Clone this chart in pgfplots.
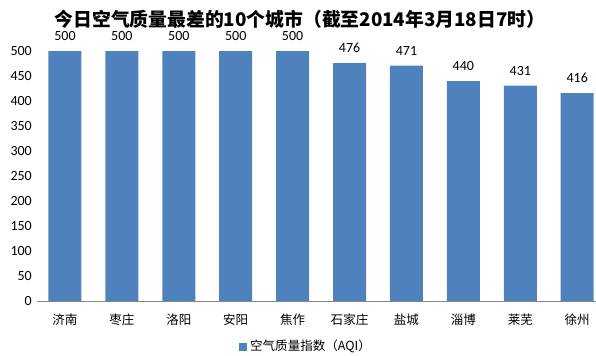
\documentclass[border=0pt]{standalone}
\usepackage{pgfplots}
\pgfplotsset{compat=1.18}
\usepackage{fontspec}
\setmainfont{Carlito}
\newfontfamily\cjk{Noto Sans CJK SC}
\definecolor{barblue}{HTML}{4F81BD}
\definecolor{axgray}{HTML}{868686}
\begin{document}
\begin{tikzpicture}
\useasboundingbox (-27.375pt,-40.5pt) rectangle (419.625pt,225.75pt);
\begin{axis}[
  scale only axis, width=419.625pt, height=187.5pt,
  xmin=-0.5, xmax=9.33, ymin=0, ymax=500,
  ytick={0,50,...,500},
  xtick=data,
  xticklabels={济南,枣庄,洛阳,安阳,焦作,石家庄,盐城,淄博,莱芜,徐州},
  x tick label style={font=\cjk\fontsize{9.4}{11}\selectfont, yshift=-6pt},
  y tick label style={font=\fontsize{10.5}{12}\selectfont},
  /pgf/number format/assume math mode=true,
  axis x line=bottom, axis y line=left,
  x axis line style={draw=axgray, -},
  y axis line style={draw=none},
  major tick length=0pt,
  clip=false,
  ybar, bar width=24.75pt,
  nodes near coords,
  nodes near coords style={font=\fontsize{10.5}{12}\selectfont, black, yshift=4pt},
  legend style={at={(0.482,-0.18)}, anchor=center, draw=none, font=\cjk\fontsize{9.4}{11}\selectfont, inner sep=0pt},
  legend image code/.code={\fill[barblue] (0pt,-4pt) rectangle (6.5pt,2.5pt);},
  legend cell align=left,
]
\addplot[fill=barblue, draw=none] coordinates {(0,500) (1,500) (2,500) (3,500) (4,500) (5,476) (6,471) (7,440) (8,431) (9,416)};
\addlegendentry{空气质量指数（AQI）}
\end{axis}
\node[font=\cjk\bfseries\fontsize{14.1}{16}\selectfont] at (197.6pt,211.5pt) {今日空气质量最差的10个城市（截至2014年3月18日7时）};
\end{tikzpicture}
\end{document}
